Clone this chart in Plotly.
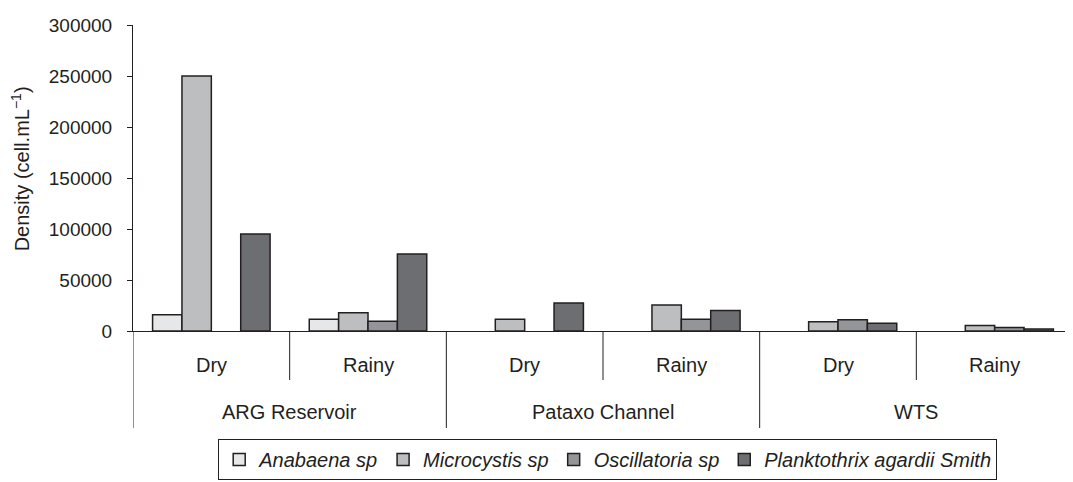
import plotly.graph_objects as go

sites = ["ARG Reservoir", "ARG Reservoir", "Pataxo Channel", "Pataxo Channel", "WTS", "WTS"]
seasons = ["Dry", "Rainy", "Dry", "Rainy", "Dry", "Rainy"]
site_groups = ["ARG Reservoir", "Pataxo Channel", "WTS"]

anabaena = [16000, 11500, None, None, None, None]
microcystis = [250000, 18000, 11500, 25500, 9000, 5500]
oscillatoria = [None, 9500, None, 11500, 11000, 3500]
planktothrix = [95000, 75500, 27500, 20000, 7500, 2000]

series_names = ["Anabaena sp", "Microcystis sp", "Oscillatoria sp", "Planktothrix agardii Smith"]
series_values = [anabaena, microcystis, oscillatoria, planktothrix]
colors = ["#e6e7e8", "#bcbec0", "#939598", "#6d6e71"]

y_ticks = [0, 50000, 100000, 150000, 200000, 250000, 300000]

cats = [f"{s}|{p}" for s, p in zip(sites, seasons)]
ink = "#231f20"
regular = "Liberation Sans, Arial, sans-serif"

fig = go.Figure()
for name, vals, col in zip(series_names, series_values, colors):
    fig.add_trace(go.Bar(
        x=cats, y=vals, name=name,
        marker=dict(color=col, line=dict(color=ink, width=1.5)),
    ))

# category labels (inner: season, outer: site)
for i, p in enumerate(seasons):
    fig.add_annotation(x=i, y=-0.111, xref="x", yref="paper", text=p, showarrow=False,
                       font=dict(family=regular, size=20, color=ink), yanchor="middle")
for g, name in enumerate(site_groups):
    fig.add_annotation(x=2 * g + 0.5, y=-0.265, xref="x", yref="paper", text=name, showarrow=False,
                       font=dict(family=regular, size=20, color=ink), yanchor="middle")
# dividers
for g in range(3):
    fig.add_shape(type="line", xref="x", yref="paper", x0=2 * g + 0.5, x1=2 * g + 0.5,
                  y0=0, y1=-0.160, line=dict(color=ink, width=1))
for xb in [-0.5, 1.5, 3.5, 5.5]:
    fig.add_shape(type="line", xref="x", yref="paper", x0=xb, x1=xb,
                  y0=0, y1=-0.317, line=dict(color=ink, width=1))

# y axis title
fig.add_annotation(x=-0.120, y=0.529, xref="paper", yref="paper",
                   text="Density (cell.mL<sup>−1</sup>)", showarrow=False, textangle=-90,
                   font=dict(family=regular, size=20, color=ink), xanchor="center", yanchor="middle")

# the page body adds an 8px offset; the figure is sized to compensate
fig.update_layout(
    width=1065, height=474,
    margin=dict(l=125, r=0, t=17, b=151, autoexpand=False),
    paper_bgcolor="white", plot_bgcolor="white",
    barmode="group", bargap=0.25, bargroupgap=0,
    font=dict(family=regular, size=18, color=ink),
    showlegend=True,
    legend=dict(
        orientation="h", x=0.505, xanchor="center", y=-0.353, yanchor="top",
        bordercolor=ink, borderwidth=1,
        font=dict(family=regular, size=20, style="italic", color=ink),
        itemwidth=30, traceorder="normal",
    ),
    yaxis=dict(
        range=[0, 300000], tickvals=y_ticks, ticktext=[str(v) for v in y_ticks],
        showgrid=False, zeroline=False, showline=True, linecolor=ink, linewidth=1,
        ticks="outside", ticklen=5, tickcolor=ink, ticklabelstandoff=11,
        tickfont=dict(family=regular, size=19), automargin=False,
    ),
    xaxis=dict(
        type="category", range=[-0.5, 5.5], showgrid=False, showline=True,
        linecolor=ink, linewidth=1, showticklabels=False, ticks="", automargin=False,
    ),
)

fig.write_html("out.html")
